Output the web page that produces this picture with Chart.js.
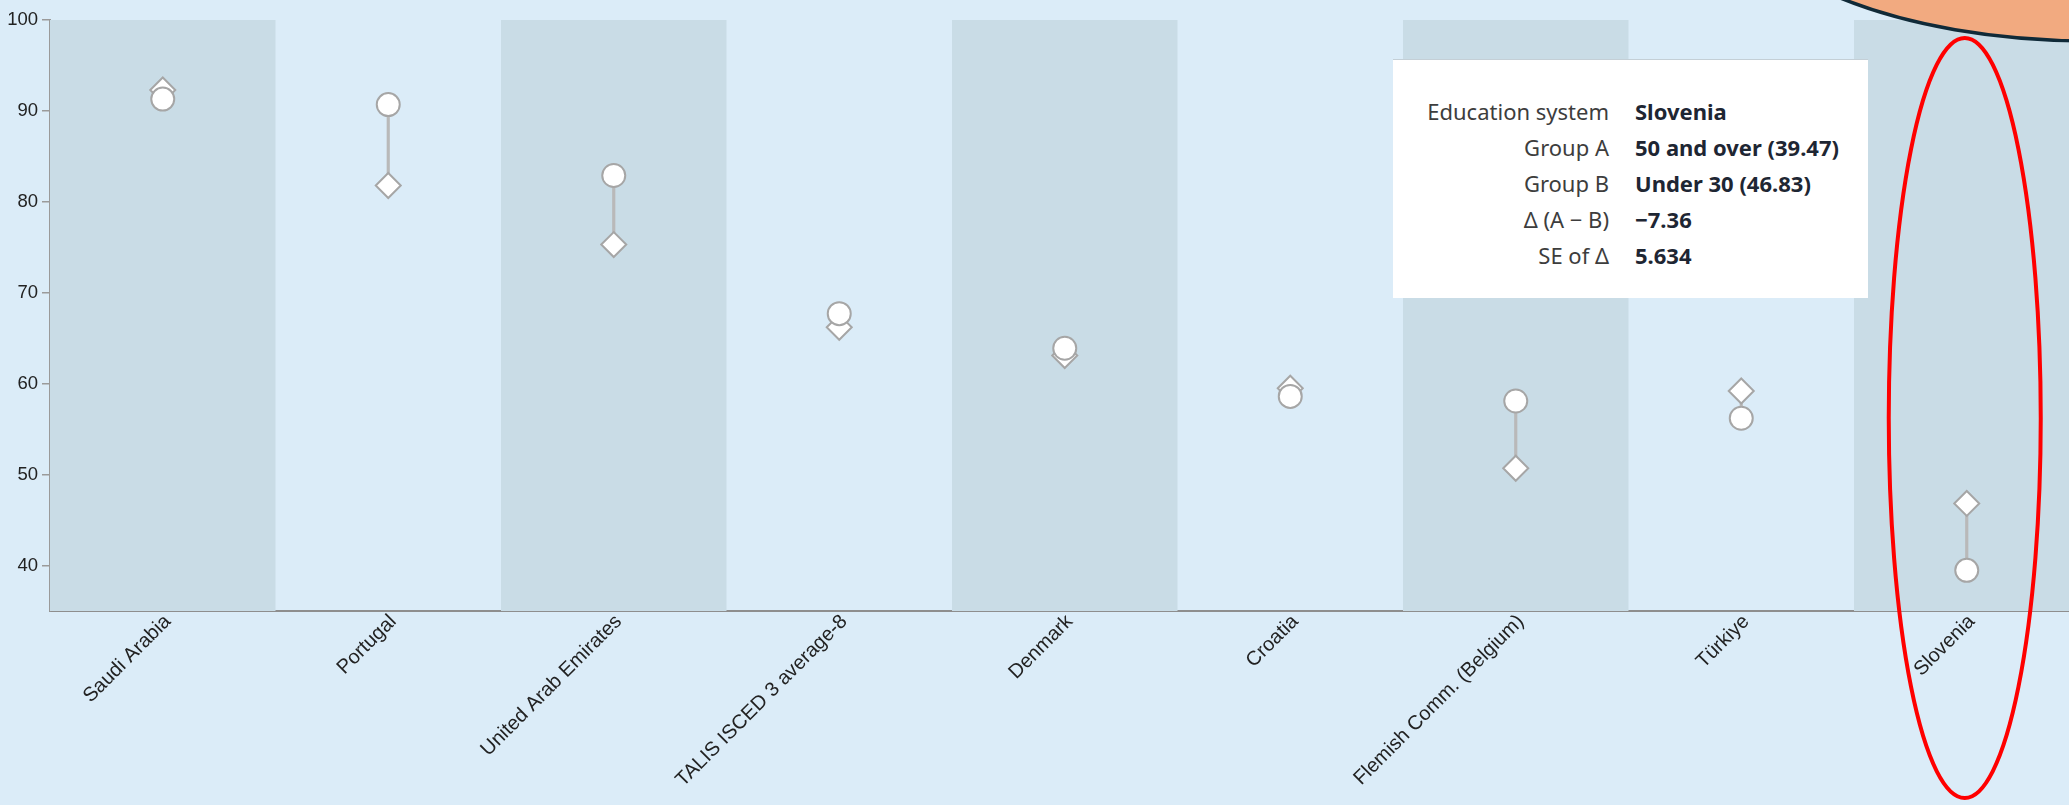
<!DOCTYPE html>
<html>
<head>
<meta charset="utf-8">
<script src="https://cdn.jsdelivr.net/npm/chart.js@4.4.1/dist/chart.umd.min.js"></script>
<style>
  html, body { margin: 0; padding: 0; background: #dbecf8; overflow: hidden; }
  #wrap { position: relative; width: 2094px; height: 805px; }
  #tip {
    position: absolute; left: 1393px; top: 59px; width: 475px; height: 239px;
    background: #fff; border-top: 1px solid #c4cfd6; box-sizing: border-box;
    font-family: "Noto Sans", sans-serif; font-size: 22px;
  }
  #tip table { position: absolute; left: 0; top: 33px; border-collapse: collapse; }
  #tip td { padding: 0; height: 36px; line-height: 36px; white-space: nowrap; }
  #tip td.k { text-align: right; color: #3d3d3d; width: 216px; padding-right: 26px; }
  #tip td.v { font-weight: bold; color: #1e2633; }
</style>
</head>
<body>
<div id="wrap">
  <canvas id="canvas"></canvas>
  <div id="tip"><table id="tiptable"></table></div>
</div>
<script>
// education systems along the x axis
var categories = ['Saudi Arabia', 'Portugal', 'United Arab Emirates', 'TALIS ISCED 3 average-8',
  'Denmark', 'Croatia', 'Flemish Comm. (Belgium)', 'Türkiye', 'Slovenia']

// Group A = 50 and over (circles), Group B = Under 30 (diamonds)
var groupA = [91.3, 90.7, 82.9, 67.7, 63.9, 58.6, 58.1, 56.2, 39.47]
var groupB = [92.3, 81.8, 75.3, 66.2, 63.1, 59.5, 50.7, 59.2, 46.83]
var groupAName = '50 and over'
var groupBName = 'Under 30'

var yTicks = [40, 50, 60, 70, 80, 90, 100]
var yMin = 35
var yMax = 100

// the one hovered system shown in the tooltip box
var hoverIndex = 8
var hoverSE = '5.634'

// grey line between the two markers -> floating bars
var ranges = []
for (var i = 0; i < categories.length; i++) {
  ranges.push([Math.min(groupA[i], groupB[i]), Math.max(groupA[i], groupB[i])])
}

// alternating darker column behind every other system
var bandsPlugin = {
  id: 'bands',
  beforeDatasetsDraw: function (chart) {
    var ctx = chart.ctx, area = chart.chartArea, x = chart.scales.x
    var w = x.width / categories.length
    ctx.save()
    ctx.fillStyle = '#c9dce6'
    for (var i = 0; i < categories.length; i += 2) {
      var cx = x.getPixelForValue(i)
      ctx.fillRect(cx - w / 2, area.top, w, area.bottom - area.top)
    }
    ctx.restore()
  }
}

// callout bubble (top right) and red ring round the hovered system
var markupPlugin = {
  id: 'markup',
  afterDraw: function (chart) {
    var ctx = chart.ctx, x = chart.scales.x
    ctx.save()
    ctx.beginPath()
    ctx.ellipse(2090, -120, 367, 161, 0, 0, Math.PI * 2)
    ctx.fillStyle = '#f2aa80'
    ctx.fill()
    ctx.lineWidth = 3.5
    ctx.strokeStyle = '#102a38'
    ctx.stroke()

    var cx = x.getPixelForValue(hoverIndex)
    ctx.beginPath()
    ctx.ellipse(cx - 2, 418, 76, 380, 0, 0, Math.PI * 2)
    ctx.lineWidth = 4
    ctx.strokeStyle = '#ff0000'
    ctx.stroke()
    ctx.restore()
  }
}

var canvas = document.getElementById('canvas').getContext('2d')

var config = {
  type: 'bar',
  data: {
    labels: categories,
    datasets: [
      {
        type: 'line',
        label: 'Group A',
        data: groupA,
        showLine: false,
        pointStyle: 'circle',
        pointRadius: 11.5,
        pointBackgroundColor: '#ffffff',
        pointBorderColor: '#a6a6a6',
        pointBorderWidth: 2,
        order: 0
      },
      {
        type: 'line',
        label: 'Group B',
        data: groupB,
        showLine: false,
        pointStyle: 'rectRot',
        pointRadius: 12.5,
        pointBackgroundColor: '#ffffff',
        pointBorderColor: '#a6a6a6',
        pointBorderWidth: 2,
        order: 1
      },
      {
        type: 'bar',
        label: 'range',
        data: ranges,
        backgroundColor: '#b9b9b9',
        barThickness: 2.5,
        order: 2
      }
    ]
  },
  options: {
    responsive: true,
    maintainAspectRatio: false,
    devicePixelRatio: 1,
    animation: false,
    events: [],
    layout: { padding: { top: 20, left: 0, right: 1, bottom: 0 } },
    plugins: {
      legend: { display: false },
      tooltip: { enabled: false }
    },
    scales: {
      x: {
        offset: true,
        grid: { display: false },
        border: { display: true, color: '#8e8e8e', width: 2 },
        ticks: {
          autoSkip: false,
          minRotation: 45,
          maxRotation: 45,
          padding: -9,
          labelOffset: 5,
          color: '#222',
          font: { family: '"Liberation Sans", Arial, sans-serif', size: 20 }
        },
        afterFit: function (scale) { scale.height = 194 }
      },
      y: {
        min: yMin,
        max: yMax,
        grid: { drawOnChartArea: false, drawTicks: true, tickLength: 8, color: '#9a9a9a', lineWidth: 1.5 },
        border: { display: true, color: '#9a9a9a', width: 2 },
        ticks: {
          padding: 4,
          color: '#222',
          font: { family: '"Liberation Sans Narrow", "Arial Narrow", sans-serif', size: 18.5 }
        },
        afterBuildTicks: function (scale) {
          scale.ticks = yTicks.map(function (v) { return { value: v } })
        },
        afterFit: function (scale) { scale.width = 50 }
      }
    }
  },
  plugins: [bandsPlugin, markupPlugin]
}

myChart = new Chart(canvas, config)

// tooltip box content for the hovered system
var a = groupA[hoverIndex], b = groupB[hoverIndex]
var rows = [
  ['Education system', categories[hoverIndex]],
  ['Group A', groupAName + ' (' + a.toFixed(2) + ')'],
  ['Group B', groupBName + ' (' + b.toFixed(2) + ')'],
  ['\u0394 (A \u2212 B)', (a - b < 0 ? '\u2212' : '') + Math.abs(a - b).toFixed(2)],
  ['SE of \u0394', hoverSE]
]
var html = ''
for (var r = 0; r < rows.length; r++) {
  html += '<tr><td class="k">' + rows[r][0] + '</td><td class="v">' + rows[r][1] + '</td></tr>'
}
document.getElementById('tiptable').innerHTML = html
</script>
</body>
</html>
